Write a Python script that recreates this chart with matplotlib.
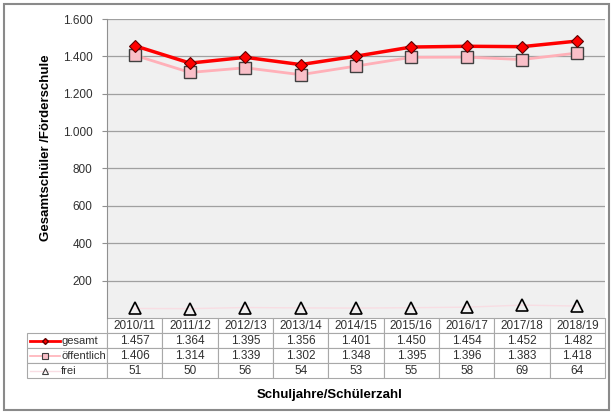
import matplotlib.pyplot as plt
from matplotlib.lines import Line2D
from matplotlib.patches import Rectangle

plt.rcParams['font.family'] = ['Liberation Sans', 'DejaVu Sans']

# Data
years = ['2010/11', '2011/12', '2012/13', '2013/14', '2014/15',
         '2015/16', '2016/17', '2017/18', '2018/19']
gesamt = [1457, 1364, 1395, 1356, 1401, 1450, 1454, 1452, 1482]
oeffentlich = [1406, 1314, 1339, 1302, 1348, 1395, 1396, 1383, 1418]
frei = [51, 50, 56, 54, 53, 55, 58, 69, 64]
yticks = [200, 400, 600, 800, 1000, 1200, 1400, 1600]
ytick_labels = ['200', '400', '600', '800', '1.000', '1.200', '1.400', '1.600']


def fmt(v):
    return f'{v:,}'.replace(',', '.')


fig = plt.figure(figsize=(6.13, 4.15), dpi=100)
fig.patch.set_facecolor('white')
fig.patches.append(Rectangle((0.007, 0.012), 0.987, 0.978, transform=fig.transFigure,
                             fill=False, edgecolor='#8a8a8a', linewidth=1.5))

ax = fig.add_axes([107 / 613, 1 - 318 / 415, 498 / 613, 299 / 415])
ax.set_facecolor('#f0f0f0')
x = list(range(len(years)))

ax.plot(x, frei, color='#f8dde3', linewidth=1, marker='^', markersize=8,
        markerfacecolor='none', markeredgecolor='black', markeredgewidth=1.2, zorder=3)
ax.plot(x, oeffentlich, color='#ffb0b8', linewidth=2, marker='s', markersize=8.5,
        markerfacecolor='#f9bfc8', markeredgecolor='#404040', markeredgewidth=1, zorder=4)
ax.plot(x, gesamt, color='#ff0000', linewidth=2.5, marker='D', markersize=6,
        markerfacecolor='#ff0000', markeredgecolor='#600000', markeredgewidth=0.8, zorder=5)

ax.set_xlim(-0.5, len(years) - 0.5)
ax.set_ylim(0, 1600)
ax.set_xticks([])
ax.set_yticks(yticks)
ax.set_yticklabels(ytick_labels, fontsize=8.5, color='#303030')
ax.tick_params(axis='y', length=3.5, color='#909090', pad=7)
ax.grid(axis='y', color='#a0a0a0', linewidth=0.9)
ax.set_axisbelow(True)
for side in ['top', 'right', 'bottom']:
    ax.spines[side].set_visible(False)
ax.spines['left'].set_color('#909090')

ax.set_ylabel('Gesamtschüler /Förderschule', fontsize=9.5, fontweight='bold')
ax.yaxis.set_label_coords(-0.11, 0.57)

# data table below the plot
cell_text = [[''] + years,
             [''] + [fmt(v) for v in gesamt],
             [''] + [fmt(v) for v in oeffentlich],
             [''] + [str(v) for v in frei]]
col_w = [80 / 578] + [498 / 578 / len(years)] * len(years)
tbl = ax.table(cellText=cell_text, colWidths=col_w, cellLoc='center',
               bbox=[-80 / 498, -60 / 299, 578 / 498, 60 / 299])
tbl.auto_set_font_size(False)
tbl.set_fontsize(8.5)
for (r, c), cell in tbl.get_celld().items():
    cell.set_edgecolor('#a8a8a8')
    cell.set_linewidth(0.8)
    cell.set_facecolor('white')
    cell.get_text().set_color('#303030')
tbl[0, 0].visible_edges = ''

# legend keys inside the first column
row_names = ['gesamt', 'öffentlich', 'frei']
line_styles = [dict(color='#ff0000', linewidth=2),
               dict(color='#ffb0b8', linewidth=1.2),
               dict(color='#f8dde3', linewidth=1)]
marker_styles = [dict(marker='D', markersize=3, markerfacecolor='#ff0000', markeredgecolor='#600000'),
                 dict(marker='s', markersize=5, markerfacecolor='#f9bfc8', markeredgecolor='#404040',
                      markeredgewidth=0.8),
                 dict(marker='^', markersize=4.5, markerfacecolor='none', markeredgecolor='#404040',
                      markeredgewidth=0.8)]
for i, name in enumerate(row_names):
    yc = 1 - (333 + 15 * i + 7.5) / 415
    fig.add_artist(Line2D([30 / 613, 60 / 613], [yc, yc], transform=fig.transFigure,
                          **line_styles[i]))
    fig.add_artist(Line2D([45 / 613], [yc], transform=fig.transFigure, linestyle='none',
                          **marker_styles[i]))
    fig.text(61 / 613, yc, name, fontsize=8, va='center', ha='left', color='#303030')

fig.text(330 / 613, 1 - 395 / 415, 'Schuljahre/Schülerzahl', fontsize=9.5,
         fontweight='bold', ha='center', va='center')

fig.savefig('out.png', dpi=100)
